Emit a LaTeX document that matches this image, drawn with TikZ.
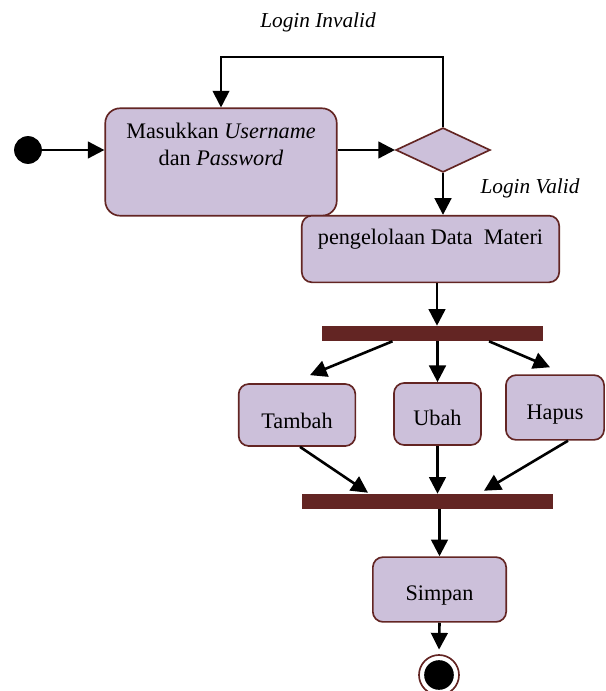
\documentclass[tikz,border=0pt]{standalone}
\usepackage{fontspec}
\setmainfont{Liberation Serif}
\usetikzlibrary{arrows.meta,calc,shapes.geometric}
\definecolor{BoxClr}{rgb}{0.8,0.753,0.855}
\definecolor{EdgeClr}{rgb}{0.388,0.145,0.137}

\begin{document}
\begin{tikzpicture}[x=0.54pt,y=-0.54pt,
  font=\fontsize{12}{14.5}\selectfont,
  activity/.style={draw=EdgeClr,fill=BoxClr,line width=0.9pt,rounded corners=5.5pt,align=center,inner sep=0pt},
  decision/.style={diamond,draw=EdgeClr,fill=BoxClr,line width=0.9pt,inner sep=0pt,minimum width=51pt,minimum height=24pt},
  syncbar/.style={fill=EdgeClr,inner sep=0pt,minimum height=8pt},
  flow/.style={line width=1.4pt,-{Triangle[length=9pt,width=9pt]}},
  guard/.style={font=\fontsize{11.5}{13}\selectfont\itshape}]
\useasboundingbox (0,0) rectangle (605,691);

\node[circle,fill=black,minimum size=15pt,inner sep=0pt] (start) at (28,150) {};
\node[activity,rounded corners=8pt,minimum width=125pt,minimum height=58pt,text height=9pt,text depth=5pt] (login) at (221,162) {Masukkan \textit{Username}\\dan \textit{Password}};
\node[decision] (cek) at (443,150) {};
\coordinate (loop) at (330,57);
\node[guard] (invalid) at (318,22) {Login Invalid};
\node[guard] (valid) at (530,188) {Login Valid};

\node[activity,minimum width=139pt,minimum height=36pt,text height=9pt,text depth=14pt] (kelola) at (430.5,249) {pengelolaan Data\ \ Materi};
\node[syncbar,minimum width=119pt] (fork) at (432.5,333.5) {};

\node[activity,minimum width=63pt,minimum height=33.5pt,text height=15pt,text depth=0pt] (tambah) at (297,415) {Tambah};
\node[activity,minimum width=47pt,minimum height=33.5pt,text height=12pt,text depth=0pt] (ubah) at (437.5,414) {Ubah};
\node[activity,minimum width=53pt,minimum height=35pt,text height=13pt,text depth=0pt] (hapus) at (555,407.5) {Hapus};
\node[syncbar,minimum width=135.5pt] (join) at (427.5,501.5) {};

\node[activity,minimum width=72pt,minimum height=35pt,text height=12pt,text depth=0pt] (simpan) at (439.5,589.5) {Simpan};
\node[circle,draw=EdgeClr,fill=white,line width=0.9pt,minimum size=21.6pt,inner sep=0pt] (stop) at (439,675) {};
\node[circle,fill=black,minimum size=16pt,inner sep=0pt] (stopdot) at (stop) {};

\draw[flow] (start.east) -- (start.east -| login.west);
\draw[flow] (login.east |- cek.west) -- (cek.west);
\draw[flow,line width=1.1pt] (cek.north) |- (loop) -| (login.north);
\draw[flow] (cek.south) -- (cek.south |- kelola.north);
\draw[flow] ($(kelola.south)+(6.5,0)$) -- ($(fork.north)+(4.5,0)$);

\draw[flow] ($(fork.south)+(-40,0)$) -- ($(tambah.north)+(13,-8)$);
\draw[flow] (ubah.north |- fork.south) -- (ubah.north);
\draw[flow] ($(fork.south)+(56.5,0)$) -- ($(hapus.north)+(-5,-7)$);

\draw[flow] ($(tambah.south)+(3,0)$) -- ($(join.north)+(-59.5,-1)$);
\draw[flow] (ubah.south) -- (ubah.south |- join.north);
\draw[flow] ($(hapus.south)+(13,0)$) -- ($(join.north)+(56.5,-3)$);

\draw[flow] (simpan.north |- join.south) -- (simpan.north);
\draw[flow,shorten >=2.5pt] (simpan.south) -- (stop.north);

\end{tikzpicture}
\end{document}
